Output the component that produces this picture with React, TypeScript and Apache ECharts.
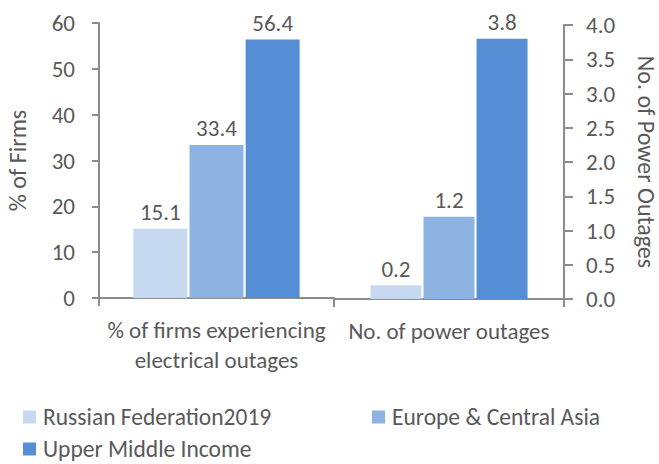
import React, { useEffect, useRef } from "react";
import * as echarts from "echarts";

const categoriesLeft = ["% of firms experiencing\nelectrical outages"];
const categoriesRight = ["No. of power outages"];
const seriesNames = ["Russian Federation2019", "Europe & Central Asia", "Upper Middle Income"];
const firmsPct = [15.1, 33.4, 56.4];
const outagesNo = [0.2, 1.2, 3.8];
const colors = ["#c6d9f1", "#8db3e2", "#558ed5"];
const leftTicks = { min: 0, max: 60, interval: 10 };
const rightTicks = { min: 0, max: 4, interval: 0.5 };

const FONT = "Carlito, Lato, sans-serif";
const TXT = "#595959";
const AX = "#8c8c8c";

export default function App() {
  const ref = useRef<HTMLDivElement>(null);
  useEffect(() => {
    const chart = echarts.init(ref.current!, null, { renderer: "svg" });
    const label = {
      show: true,
      position: "top",
      distance: 5,
      color: TXT,
      fontFamily: FONT,
      fontSize: 23,
    };
    const series: any[] = [];
    seriesNames.forEach((name, i) => {
      series.push({
        name,
        type: "bar",
        xAxisIndex: 0,
        yAxisIndex: 0,
        data: [firmsPct[i]],
        itemStyle: { color: colors[i] },
        barWidth: 54,
        barGap: "4%",
        label,
      });
      series.push({
        name,
        type: "bar",
        xAxisIndex: 1,
        yAxisIndex: 1,
        data: [outagesNo[i]],
        itemStyle: { color: colors[i] },
        barWidth: 51,
        barGap: "4%",
        label,
      });
    });
    const legendBase = {
      orient: "horizontal",
      itemWidth: 13,
      itemHeight: 13,
      itemGap: 0,
      padding: 0,
      icon: "rect",
      textStyle: { color: TXT, fontFamily: FONT, fontSize: 23.5, padding: [0, 0, 0, 2] },
    };
    const xAxisBase = {
      type: "category",
      axisLine: { lineStyle: { color: AX, width: 2 } },
      axisTick: { show: true, length: 8, lineStyle: { color: AX, width: 2 } },
      axisLabel: { color: TXT, fontFamily: FONT, fontSize: 23, lineHeight: 30, margin: 17, interval: 0 },
    };
    chart.setOption({
      animation: false,
      textStyle: { fontFamily: FONT },
      grid: [
        { left: 99, width: 235, top: 23, bottom: 166, containLabel: false },
        { left: 334, right: 93, top: 25, bottom: 165, containLabel: false },
      ],
      legend: [
        { ...legendBase, data: [seriesNames[0]], left: 23, top: 405 },
        { ...legendBase, data: [seriesNames[1]], left: 372, top: 405 },
        { ...legendBase, data: [seriesNames[2]], left: 23, top: 437 },
      ],
      xAxis: [
        { ...xAxisBase, gridIndex: 0, data: categoriesLeft },
        { ...xAxisBase, gridIndex: 1, data: categoriesRight },
      ],
      yAxis: [
        {
          type: "value",
          gridIndex: 0,
          ...leftTicks,
          name: "% of Firms",
          nameLocation: "middle",
          nameGap: 70,
          nameTextStyle: { color: TXT, fontFamily: FONT, fontSize: 24 },
          axisLine: { show: true, lineStyle: { color: AX, width: 2 } },
          axisTick: { show: true, length: 7, lineStyle: { color: AX, width: 2 } },
          axisLabel: { color: TXT, fontFamily: FONT, fontSize: 23, margin: 24 },
          splitLine: { show: false },
        },
        {
          type: "value",
          gridIndex: 1,
          ...rightTicks,
          position: "right",
          name: "No. of Power Outages",
          nameLocation: "middle",
          nameRotate: -90,
          nameGap: 70,
          nameTextStyle: { color: TXT, fontFamily: FONT, fontSize: 24 },
          axisLine: { show: true, lineStyle: { color: AX, width: 2 } },
          axisTick: { show: true, length: 9, lineStyle: { color: AX, width: 2 } },
          axisLabel: { color: TXT, fontFamily: FONT, fontSize: 23, margin: 22, formatter: (v: number) => v.toFixed(1) },
          splitLine: { show: false },
        },
      ],
      series,
    });
    return () => chart.dispose();
  }, []);
  return <div ref={ref} style={{ width: 659, height: 464, position: "absolute", left: 0, top: 0 }} />;
}
